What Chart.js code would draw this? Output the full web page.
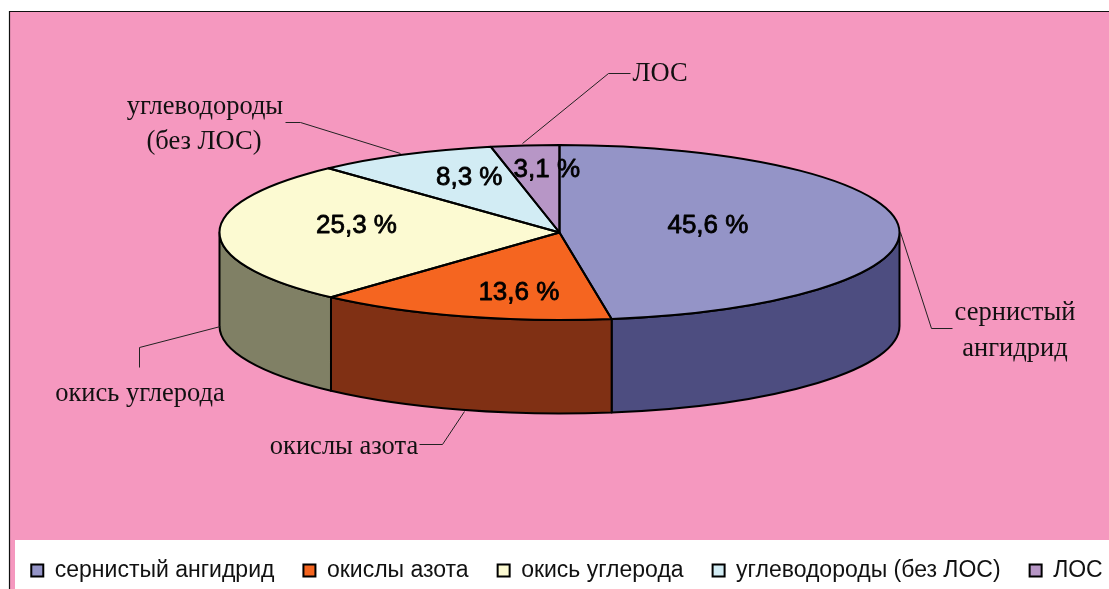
<!DOCTYPE html>
<html><head><meta charset="utf-8">
<style>html,body{margin:0;padding:0;background:#fff;overflow:hidden}canvas{display:block}</style>
<script src="https://cdn.jsdelivr.net/npm/chart.js@4/dist/chart.umd.min.js"></script>
</head><body><div style="width:1109px;height:589px"><canvas id="c" width="1109" height="589"></canvas></div>
<script>
const categories = ['сернистый ангидрид','окислы азота','окись углерода','углеводороды (без ЛОС)','ЛОС'];
const values = [45.6, 13.6, 25.3, 8.3, 3.1];
const topColors = ['#9494C7','#F56520','#FCFAD2','#D2ECF4','#B796C6'];
const sideColors = ['#4D4D80','#803014','#808065','#6C7A80','#5E4D66'];

// view geometry of the tilted disc
const disc = {cx:559.5, cy:232.5, rx:340, ry:87.5, depth:93.5};
// value-label nudges from the wedge's mid-angle anchor
const valueNudges = [[-55,-3],[18,10],[1,-7],[3,-8],[8,-10]];
// outside category callouts: text lines and leader polylines
const callouts = [
  {lines:[['сернистый',1015,313],['ангидрид',1015,349]], path:[[900,232],[931,328],[952,328]]},
  {lines:[['окислы азота',344,447]], path:[[464,411],[442,444],[419,444]]},
  {lines:[['окись углерода',140,394]], path:[[220,326],[139,347],[139,367]]},
  {lines:[['углеводороды',205,107],['(без ЛОС)',204,142]], path:[[285,122],[300,122],[400,153]]},
  {lines:[['ЛОС',660,74]], path:[[522,143],[608,73],[630,73]]}
];

const pieView = {
  id:'pieView',
  beforeDraw(chart){
    const c = chart.ctx;
    c.save();
    c.fillStyle='#fff'; c.fillRect(0,0,1109,589);
    c.fillStyle='#F598BF'; c.fillRect(10,12,1099,577);
    c.fillStyle='#fff'; c.fillRect(15,540,1094,49);
    c.strokeStyle='#111'; c.lineWidth=1.2;
    c.beginPath(); c.moveTo(9.5,589); c.lineTo(9.5,11.5); c.lineTo(1109,11.5); c.stroke();
    c.restore();
  },
  beforeDatasetsDraw(chart){
    const c = chart.ctx, arcs = chart.getDatasetMeta(0).data, d = disc;
    c.save();
    c.lineWidth=2; c.strokeStyle='#000'; c.lineJoin='round';
    arcs.forEach((a,i)=>{
      const s=Math.max(a.startAngle,0), e=Math.min(a.endAngle,Math.PI);
      if(e<=s) return;
      c.beginPath();
      c.ellipse(d.cx,d.cy,d.rx,d.ry,0,s,e);
      c.ellipse(d.cx,d.cy+d.depth,d.rx,d.ry,0,e,s,true);
      c.closePath();
      c.fillStyle=sideColors[i]; c.fill(); c.stroke();
    });
    c.restore();
    const a0=arcs[0];
    c.save();
    c.translate(d.cx,d.cy);
    c.scale(d.rx/a0.outerRadius,d.ry/a0.outerRadius);
    c.translate(-a0.x,-a0.y);
  },
  afterDatasetsDraw(chart){
    const c = chart.ctx, arcs = chart.getDatasetMeta(0).data, d = disc;
    c.restore();
    c.save();
    c.lineWidth=2; c.strokeStyle='#000'; c.lineJoin='round';
    arcs.forEach(a=>{
      c.beginPath();
      c.moveTo(d.cx,d.cy);
      c.ellipse(d.cx,d.cy,d.rx,d.ry,0,a.startAngle,a.endAngle);
      c.closePath();
      c.stroke();
    });
    // leaders
    c.lineWidth=1; c.strokeStyle='#222';
    callouts.forEach(o=>{
      c.beginPath();
      o.path.forEach((p,i)=> i? c.lineTo(p[0]+.5,p[1]+.5):c.moveTo(p[0]+.5,p[1]+.5));
      c.stroke();
    });
    c.textAlign='center'; c.textBaseline='middle';
    c.fillStyle='#111'; c.font='26.5px "Liberation Serif"';
    callouts.forEach(o=>o.lines.forEach(l=>c.fillText(l[0],l[1],l[2])));
    // value labels
    c.font='26px "Liberation Sans"'; c.lineWidth=.8; c.strokeStyle='#000'; c.fillStyle='#000';
    arcs.forEach((a,i)=>{
      const m=(a.startAngle+a.endAngle)/2;
      const x=d.cx+.6*d.rx*Math.cos(m)+valueNudges[i][0];
      const y=d.cy+.6*d.ry*Math.sin(m)+valueNudges[i][1];
      const t=String(values[i]).replace('.',',')+' %';
      c.fillText(t,x,y); c.strokeText(t,x,y);
    });
    c.restore();
  }
};

new Chart(document.getElementById('c'),{
  type:'pie',
  data:{labels:categories,datasets:[{data:values,backgroundColor:topColors,borderWidth:0,clip:false}]},
  plugins:[pieView],
  options:{
    responsive:false,animation:false,
    layout:{padding:{left:-50,right:-75,bottom:-3}},
    plugins:{
      tooltip:{enabled:false},
      legend:{
        display:true,position:'bottom',
        labels:{
          boxWidth:12,boxHeight:12,padding:29,color:'#111',
          font:{family:'"Liberation Sans"',size:23},
          generateLabels(chart){
            return Chart.overrides.pie.plugins.legend.labels.generateLabels(chart)
              .map(l=>Object.assign(l,{strokeStyle:'#000',lineWidth:2}));
          }
        }
      }
    }
  }
});
</script></body></html>
